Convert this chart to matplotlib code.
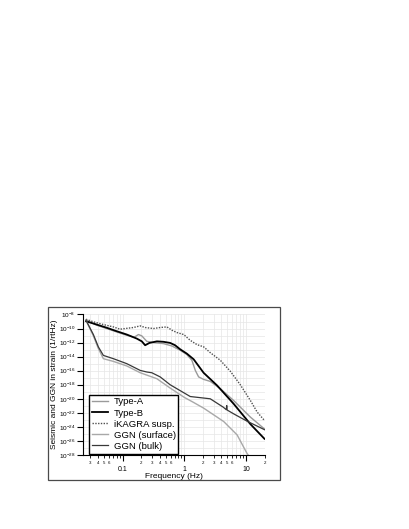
import math
import matplotlib
matplotlib.use('Agg')
import matplotlib.pyplot as plt
import matplotlib.ticker as mticker
from matplotlib.patches import Rectangle

plt.rcParams['font.family'] = ['Liberation Sans', 'DejaVu Sans']
plt.rcParams['mathtext.fontset'] = 'custom'
plt.rcParams['mathtext.rm'] = 'Liberation Sans'
plt.rcParams['mathtext.it'] = 'Liberation Sans:italic'

# values (frequency in Hz, strain in 1/rtHz)
freq_a = [0.0255, 0.038, 0.0553, 0.08, 0.117, 0.154, 0.181, 0.205, 0.247, 0.317, 0.46,
          0.63, 0.86, 1.1, 1.33, 1.51, 1.71, 2.06, 2.64, 3.85, 6.3, 11.8, 20]
type_a = [1.5e-9, 3.0e-10, 1.0e-10, 3.3e-11, 1.1e-11, 5.8e-12, 1.4e-11, 9e-12, 1.5e-12, 1.0e-12, 7.2e-13,
          3.3e-13, 8e-14, 2e-14, 3e-15, 1.1e-16, 1.3e-17, 5.8e-18, 3e-18, 2.7e-19, 5.8e-21, 2.5e-23, 5e-25]

freq_b = [0.0255, 0.038, 0.0553, 0.08, 0.117, 0.17, 0.205, 0.232, 0.273, 0.36, 0.46,
          0.59, 0.71, 0.86, 1.1, 1.42, 2.06, 3.4, 6.3, 11.8, 20]
type_b = [1.1e-9, 3.7e-10, 1.3e-10, 4.2e-11, 1.4e-11, 3.7e-12, 1.5e-12, 4.2e-13, 9e-13, 1.5e-12, 1.3e-12,
          9e-13, 4.2e-13, 1.1e-13, 2.7e-14, 4.2e-15, 5e-17, 8e-19, 2e-21, 2.5e-24, 2e-26]

freq_ik = [0.0255, 0.0336, 0.0488, 0.071, 0.091, 0.11, 0.15, 0.193, 0.232, 0.317, 0.407,
           0.523, 0.63, 0.76, 0.98, 1.25, 1.61, 2.06, 2.64, 3.85, 5.6, 8.1, 11.8, 15.2, 20]
ikagra = [2.1e-9, 9e-10, 3.7e-10, 1.7e-10, 8e-11, 1.0e-10, 1.4e-10, 2.4e-10, 1.4e-10, 1.0e-10, 1.4e-10,
          1.7e-10, 5.8e-11, 2.7e-11, 1.4e-11, 2.1e-12, 5.1e-13, 2.5e-13, 3.7e-14, 3e-15, 8e-17, 1e-18,
          5.8e-21, 1.3e-22, 8e-24]

freq_s = [0.0255, 0.0336, 0.0405, 0.0488, 0.071, 0.117, 0.193, 0.36, 0.59, 1.0, 1.4,
          2.06, 4.36, 7.2, 10.4, 11.5]
ggn_surface = [1.5e-9, 8.9e-12, 1.4e-13, 5.1e-15, 2.1e-15, 4.7e-16, 5.1e-17, 7.2e-18, 3.4e-19, 1.6e-20,
               3.2e-21, 4.7e-22, 5.8e-24, 7.2e-26, 1.7e-28, 5e-29]

freq_g = [0.0255, 0.0336, 0.0405, 0.0488, 0.071, 0.117, 0.193, 0.247, 0.298, 0.407, 0.59,
          1.25, 2.64, 4.3, 4.8, 4.88, 4.96, 6.5, 10.5, 20]
ggn_bulk = [1.5e-9, 1.4e-11, 2.4e-13, 1.5e-14, 5.1e-15, 1.0e-15, 1.1e-16, 6.5e-17, 5.1e-17, 1.3e-17, 1.0e-18,
            2.1e-20, 1.0e-20, 6.3e-22, 2.8e-22, 1.1e-21, 2.5e-22, 6.3e-23, 6.3e-24, 4e-25]

fig = plt.figure(figsize=(4.09, 5.29), dpi=100)
ax = fig.add_axes([0.2029, 0.1399, 0.4438, 0.2656])

ax.plot(freq_a, type_a, color='#9a9a9a', lw=1.0, label='Type-A')
ax.plot(freq_b, type_b, color='black', lw=1.3, label='Type-B')
ax.plot(freq_ik, ikagra, color='#505050', lw=1.0, linestyle=(0, (1, 1)), label='iKAGRA susp.')
ax.plot(freq_s, ggn_surface, color='#a8a8a8', lw=1.0, label='GGN (surface)')
ax.plot(freq_g, ggn_bulk, color='#383838', lw=0.9, label='GGN (bulk)')

ax.set_xscale('log')
ax.set_yscale('log')
ax.set_xlim(0.0228, 20)
ax.set_ylim(1e-28, 1e-8)

# y ticks every two decades, grid every decade
ax.yaxis.set_major_locator(mticker.FixedLocator([10.0 ** -k for k in range(8, 29, 2)]))
ax.yaxis.set_major_formatter(mticker.FuncFormatter(lambda v, p: r'$10^{%d}$' % round(math.log10(v))))
ax.yaxis.set_minor_locator(mticker.FixedLocator([10.0 ** -k for k in range(9, 28, 2)]))
ax.yaxis.set_minor_formatter(mticker.NullFormatter())

ax.xaxis.set_major_locator(mticker.LogLocator(base=10, numticks=10))
ax.xaxis.set_major_formatter(mticker.FuncFormatter(lambda v, p: '%g' % v))
ax.xaxis.set_minor_locator(mticker.LogLocator(base=10, subs=range(2, 10), numticks=20))


def minor_label(v, p):
    m = round(v / 10 ** math.floor(math.log10(v) + 1e-9))
    return str(m) if m in (2, 3, 4, 5, 6) else ''


ax.xaxis.set_minor_formatter(mticker.FuncFormatter(minor_label))

ax.tick_params(axis='y', which='major', labelsize=4.6, length=4, width=0.8, pad=1.5)
ax.tick_params(axis='y', which='minor', length=0)
ax.tick_params(axis='x', which='major', labelsize=5, length=4, width=0.8, pad=4)
ax.tick_params(axis='x', which='minor', labelsize=3.2, length=2.5, width=0.6, pad=1.5)

ax.grid(True, which='both', color='#e6e6e6', lw=0.5)
ax.set_axisbelow(True)

for s in ['top', 'right']:
    ax.spines[s].set_visible(False)
ax.spines['left'].set_linewidth(0.8)
ax.spines['bottom'].set_linewidth(0.8)

ax.set_xlabel('Frequency (Hz)', fontsize=6, labelpad=0)
ax.set_ylabel('Seismic and GGN in strain (1/rtHz)', fontsize=6)
ax.yaxis.set_label_coords(-0.14, 0.5)

leg = ax.legend(loc='lower left', bbox_to_anchor=(0.033, 0.01), borderaxespad=0,
                fontsize=6.8, fancybox=False, framealpha=1, edgecolor='black',
                handlelength=1.7, handletextpad=0.6, labelspacing=0.22, borderpad=0.3)
leg.get_frame().set_linewidth(1.0)

# outer frame round the whole chart
fig.patches.append(Rectangle((48 / 409, 1 - 480 / 529), 232 / 409, 173 / 529,
                             transform=fig.transFigure, fill=False, edgecolor='#4a4a4a', lw=0.9))

fig.savefig('out.png', dpi=100)
